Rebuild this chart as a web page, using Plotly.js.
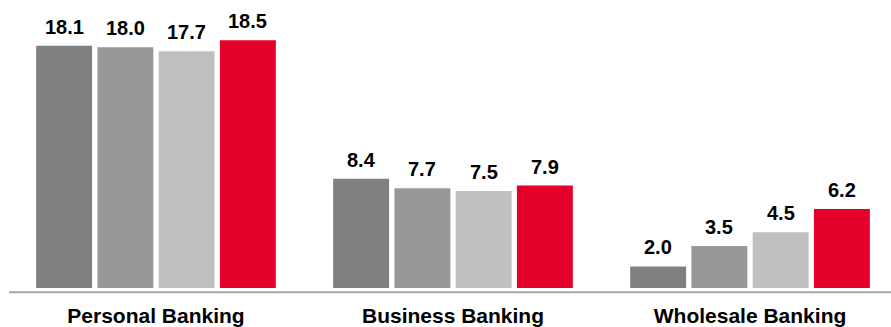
<!DOCTYPE html>
<html>
<head>
<meta charset="utf-8">
<script src="https://cdn.plot.ly/plotly-3.0.1.min.js"></script>
<style>html,body{margin:0;padding:0;background:#fff;}#chart{width:891px;height:327px;}</style>
</head>
<body>
<div id="chart"></div>
<script>
var categories = ["Personal Banking", "Business Banking", "Wholesale Banking"];
var seriesNames = ["Period 1", "Period 2", "Period 3", "Period 4"];
var series1 = [18.1, 8.4, 2.0];
var series2 = [18.0, 7.7, 3.5];
var series3 = [17.7, 7.5, 4.5];
var series4 = [18.5, 7.9, 6.2];
var seriesValues = [series1, series2, series3, series4];
var colors = ["#808080", "#989898", "#c0c0c0", "#e4002b"];

var BARGAP = 0.175, BARGROUPGAP = 0.087;
var slot = (1 - BARGAP) / seriesValues.length;

var traces = seriesValues.map(function (vals, i) {
  return {
    type: "bar", x: categories, y: vals, name: seriesNames[i],
    marker: {color: colors[i]}, hoverinfo: "y"
  };
});

var annotations = [];
seriesValues.forEach(function (vals, i) {
  vals.forEach(function (v, c) {
    annotations.push({
      xref: "x", yref: "y",
      x: c + (i - (seriesValues.length - 1) / 2) * slot,
      y: v, text: "<b>" + v.toFixed(1) + "</b>",
      showarrow: false, yanchor: "bottom", yshift: 6,
      font: {family: "Liberation Sans, Arial, sans-serif", size: 20, color: "#000"}
    });
  });
});

var layout = {
  width: 891, height: 327,
  margin: {l: 9, r: 0, t: 0, b: 39},
  paper_bgcolor: "#fff", plot_bgcolor: "#fff",
  barmode: "group", bargap: BARGAP, bargroupgap: BARGROUPGAP,
  showlegend: false,
  xaxis: {
    type: "category", range: [-0.4949, 2.4747],
    showline: false, showgrid: false, zeroline: false, ticks: "",
    tickfont: {family: "Liberation Sans, Arial, sans-serif", size: 21, color: "#000", weight: "bold"},
    ticklabelstandoff: 13
  },
  yaxis: {range: [0.43, 21.44], visible: false, showgrid: false, zeroline: false},
  shapes: [{
    type: "line", xref: "paper", yref: "paper", x0: 0, x1: 1,
    y0: -0.0146, y1: -0.0146, line: {color: "#a6a6a6", width: 2}
  }],
  annotations: annotations
};

Plotly.newPlot("chart", traces, layout, {displayModeBar: false, staticPlot: true});
</script>
</body>
</html>
